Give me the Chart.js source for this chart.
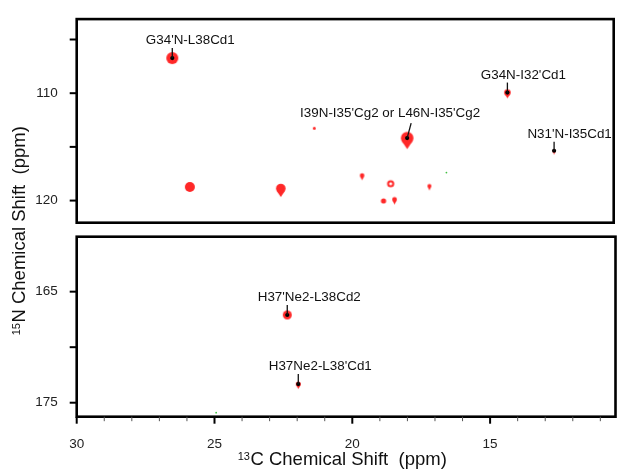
<!DOCTYPE html>
<html>
<head>
<meta charset="utf-8">
<script src="https://cdn.jsdelivr.net/npm/chart.js@4.4.0/dist/chart.umd.min.js"></script>
<style>
  html, body { margin: 0; padding: 0; background: #fff; }
  #wrap { position: relative; width: 620px; height: 469px; }
  #wrap canvas { position: absolute; left: 0; top: 0; }
</style>
</head>
<body>
<div id="wrap">
  <canvas id="topPanel" width="620" height="469"></canvas>
  <canvas id="bottomPanel" width="620" height="469"></canvas>
</div>
<script>
// 13C / 15N shifts (ppm)
const xRange = [10.45, 30];
const topRange = [103.1, 122.06];
const bottomRange = [160.05, 176.26];

// top panel (amide region)
const topC = [26.52, 14.32, 17.97, 12.62, 25.88, 22.57, 21.35, 19.61, 18.57, 17.16, 18.83, 18.43];
const topN = [106.73, 109.94, 114.18, 115.36, 118.73, 118.88, 113.27, 117.66, 118.43, 118.64, 120.03, 119.90];
const topLabels = ["G34'N-L38Cd1", "G34N-I32'Cd1", "I39N-I35'Cg2 or L46N-I35'Cg2", "N31'N-I35Cd1"];
const topLabelC = [26.52, 14.32, 17.97, 12.62];
const topLabelN = [106.73, 109.94, 114.18, 115.36];
const topNegC = [16.54];
const topNegN = [117.39];

// bottom panel (His side chain)
const botC = [22.36, 21.96];
const botN = [167.10, 173.32];
const botLabels = ["H37'Ne2-L38Cd2", "H37Ne2-L38'Cd1"];
const botLabelC = [22.36, 21.96];
const botLabelN = [167.10, 173.32];
const botNegC = [24.94];
const botNegN = [175.90];

// axis ticks
const xMajor = [30, 25, 20, 15];
const xMinor = [29, 28, 27, 26, 24, 23, 22, 21, 19, 18, 17, 16, 14, 13, 12, 11];
const topYLabels = [110, 120];
const topYMinor = [105, 115];
const botYLabels = [165, 175];
const botYMinor = [170];

// contour look (radius in px, shape)
const topRadius = [6, 3.3, 6.3, 1.5, 5, 4.8, 1.5, 2.3, 3.6, 2, 2.6, 2.4];
const topShape = ['circle', 'drop', 'drop', 'drop', 'circle', 'drop', 'circle', 'drop', 'ring', 'drop', 'circle', 'drop'];
const botRadius = [4.5, 2.5];
const botShape = ['circle', 'drop'];

const RED = '#ff2828';
const GREEN = '#44c044';
const FONT = '"Liberation Sans", Arial, Helvetica, sans-serif';

function peakImage(r, shape) {
  const tail = shape === 'drop' ? Math.max(2.5, r * 0.75) : 0;
  const w = Math.ceil(2 * r + 4);
  const h = Math.ceil(2 * (r + tail) + 4);
  const c = document.createElement('canvas');
  c.width = w; c.height = h;
  const g = c.getContext('2d');
  const cx = w / 2, cy = h / 2;
  g.fillStyle = RED; g.strokeStyle = RED;
  if (shape === 'ring') {
    g.lineWidth = 2;
    g.beginPath(); g.arc(cx, cy, r - 1, 0, Math.PI * 2); g.stroke();
    return c;
  }
  g.beginPath(); g.arc(cx, cy, r, 0, Math.PI * 2); g.fill();
  if (tail) {
    g.beginPath();
    g.moveTo(cx - r * 0.8, cy + r * 0.55);
    g.lineTo(cx + r * 0.8, cy + r * 0.55);
    g.lineTo(cx, cy + r + tail);
    g.closePath(); g.fill();
  }
  return c;
}

// frame, tick marks and peak labels
const panelDecor = {
  id: 'panelDecor',
  afterDatasetsDraw(chart, args, opts) {
    const ctx = chart.ctx, a = chart.chartArea;
    const xs = chart.scales.x, ys = chart.scales.y;
    ctx.save();

    ctx.font = '13.4px ' + FONT;
    ctx.textAlign = 'center';
    ctx.textBaseline = 'middle';
    ctx.fillStyle = '#111';
    ctx.strokeStyle = '#111';
    ctx.lineWidth = 1.3;
    opts.labels.forEach((t, i) => {
      const px = xs.getPixelForValue(opts.c[i]);
      const py = ys.getPixelForValue(opts.n[i]);
      const [dx, dy] = opts.offsets[i];
      const [lx, ly] = opts.leaders[i];
      ctx.beginPath(); ctx.moveTo(px, py); ctx.lineTo(px + lx, py + ly); ctx.stroke();
      ctx.fillText(t, px + dx, py + dy);
    });

    ctx.strokeStyle = '#000';
    ctx.lineWidth = 2.6;
    ctx.strokeRect(a.left, a.top, a.right - a.left, a.bottom - a.top);

    ctx.lineWidth = 2;
    opts.yTicks.forEach(v => {
      const y = ys.getPixelForValue(v);
      ctx.beginPath(); ctx.moveTo(a.left - 7, y); ctx.lineTo(a.left, y); ctx.stroke();
    });

    if (opts.xAxis) {
      xMajor.forEach(v => {
        const x = xs.getPixelForValue(v);
        ctx.lineWidth = 2;
        ctx.beginPath(); ctx.moveTo(x, a.bottom); ctx.lineTo(x, a.bottom + 7); ctx.stroke();
      });
      ctx.strokeStyle = '#555';
      xMinor.forEach(v => {
        const x = xs.getPixelForValue(v);
        ctx.lineWidth = 1;
        ctx.beginPath(); ctx.moveTo(x, a.bottom); ctx.lineTo(x, a.bottom + 4.5); ctx.stroke();
      });
    }
    ctx.restore();
  }
};

function supTitle(ctx, sup, main, cx, cy, rot) {
  ctx.save();
  ctx.translate(cx, cy);
  ctx.rotate(rot);
  ctx.fillStyle = '#111';
  ctx.textAlign = 'left';
  ctx.textBaseline = 'alphabetic';
  ctx.font = '11px ' + FONT;
  const ws = ctx.measureText(sup).width;
  ctx.font = '18.5px ' + FONT;
  const wm = ctx.measureText(main).width;
  const x0 = -(ws + wm) / 2;
  ctx.fillText(main, x0 + ws + 0.5, 6.5);
  ctx.font = '11px ' + FONT;
  ctx.fillText(sup, x0, 1.5);
  ctx.restore();
}

const axisTitles = {
  id: 'axisTitles',
  afterDraw(chart) {
    supTitle(chart.ctx, '13', 'C Chemical Shift  (ppm)', 342, 458, 0);
    supTitle(chart.ctx, '15', 'N Chemical Shift  (ppm)', 18, 231, -Math.PI / 2);
  }
};

function panel(id, cfg) {
  const imgs = cfg.radius.map((r, i) => peakImage(r, cfg.shape[i]));
  return new Chart(document.getElementById(id), {
    type: 'bubble',
    data: {
      datasets: [
        {
          data: cfg.labelC.map((c, i) => ({ x: c, y: cfg.labelN[i], r: 2.1 })),
          backgroundColor: '#000', borderWidth: 0, order: 0
        },
        {
          data: cfg.c.map((c, i) => ({ x: c, y: cfg.n[i], r: cfg.radius[i] })),
          backgroundColor: RED, borderWidth: 0, order: 1,
          pointStyle: ctx => (ctx.dataIndex === undefined ? 'circle' : imgs[ctx.dataIndex])
        },
        {
          data: cfg.negC.map((c, i) => ({ x: c, y: cfg.negN[i], r: 0.9 })),
          backgroundColor: GREEN, borderWidth: 0, order: 2
        }
      ]
    },
    options: {
      responsive: false,
      animation: false,
      events: [],
      layout: { padding: cfg.padding },
      plugins: {
        legend: { display: false },
        tooltip: { enabled: false },
        panelDecor: {
          labels: cfg.labels, c: cfg.labelC, n: cfg.labelN,
          offsets: cfg.offsets, leaders: cfg.leaders,
          yTicks: cfg.yLabels.concat(cfg.yMinor), xAxis: cfg.xAxis
        }
      },
      scales: {
        x: {
          type: 'linear', reverse: true, min: xRange[0], max: xRange[1],
          display: cfg.xAxis,
          afterFit: s => { s.height = cfg.xAxis ? 52.3 : 0; },
          afterBuildTicks: s => { s.ticks = xMajor.map(v => ({ value: v })); },
          grid: { display: false },
          border: { display: false },
          ticks: { padding: 11, maxRotation: 0, autoSkip: false, color: '#222', font: { size: 13.5, family: FONT } }
        },
        y: {
          type: 'linear', reverse: true, min: cfg.yRange[0], max: cfg.yRange[1],
          afterFit: s => { s.width = 76.7; },
          afterBuildTicks: s => { s.ticks = cfg.yLabels.map(v => ({ value: v })); },
          grid: { display: false },
          border: { display: false },
          ticks: { padding: 11, color: '#222', font: { size: 13.5, family: FONT } }
        }
      }
    },
    plugins: cfg.xAxis ? [panelDecor, axisTitles] : [panelDecor]
  });
}

panel('topPanel', {
  c: topC, n: topN, radius: topRadius, shape: topShape,
  labels: topLabels, labelC: topLabelC, labelN: topLabelN,
  negC: topNegC, negN: topNegN,
  offsets: [[18, -18], [16, -17], [-17, -25], [15.5, -16.3]],
  leaders: [[0, -10], [0, -10], [4, -15], [0, -9]],
  yRange: topRange, yLabels: topYLabels, yMinor: topYMinor,
  xAxis: false,
  padding: { top: 14, right: 3, bottom: 246.3, left: 0 }
});

panel('bottomPanel', {
  c: botC, n: botN, radius: botRadius, shape: botShape,
  labels: botLabels, labelC: botLabelC, labelN: botLabelN,
  negC: botNegC, negN: botNegN,
  offsets: [[22, -17.7], [22, -17.3]],
  leaders: [[0, -10], [0, -10]],
  yRange: bottomRange, yLabels: botYLabels, yMinor: botYMinor,
  xAxis: true,
  padding: { top: 236.7, right: 3, bottom: 0, left: 0 }
});
</script>
</body>
</html>
